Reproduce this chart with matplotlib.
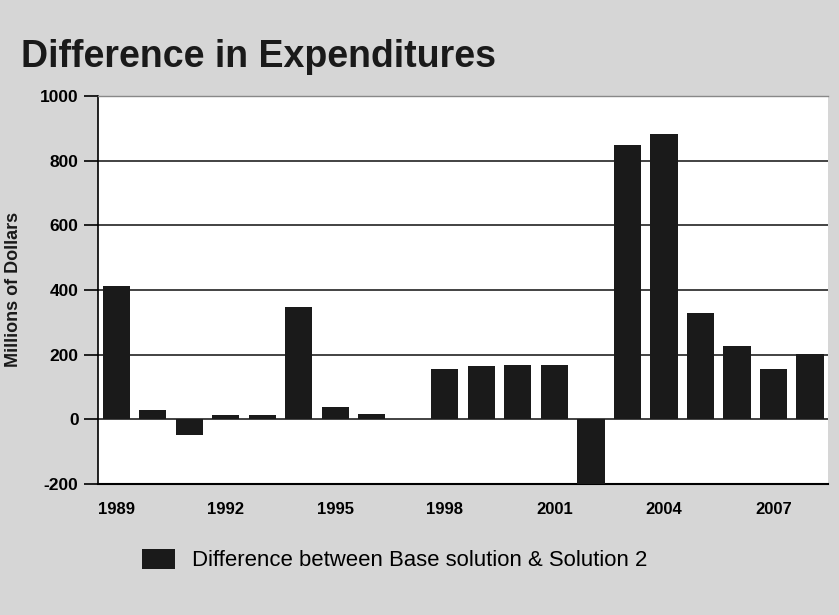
import matplotlib
matplotlib.use("Agg")
import matplotlib.pyplot as plt
import numpy as np

years = list(range(1989, 2009))
values = [413, 29, -47, 12, 13, 347, 38, 16, 2, 155, 165, 167, 167, -200,
          849, 882, 330, 227, 157, 201]
tick_years = [1989, 1992, 1995, 1998, 2001, 2004, 2007]
yticks = [-200, 0, 200, 400, 600, 800, 1000]
title = "Difference in Expenditures"
ylabel = "Millions of Dollars"
legend_label = "Difference between Base solution & Solution 2"

plt.rcParams['font.family'] = ['Liberation Sans', 'DejaVu Sans']

fig = plt.figure(figsize=(8.39, 6.15), dpi=100)
fig.patch.set_facecolor('#d6d6d6')
ax = fig.add_axes([0.1168, 0.213, 0.8702, 0.631])
ax.set_facecolor('white')

x = np.arange(len(years))
ax.bar(x, values, width=0.75, color='#1a1a1a', zorder=3,
       label=legend_label)
ax.set_xlim(-0.5, len(years) - 0.5)
ax.set_ylim(-200, 1000)
ax.set_yticks(yticks)
ax.set_yticklabels([str(v) for v in yticks], fontsize=12.5, fontweight='bold')
ax.set_xticks([years.index(y) for y in tick_years])
ax.set_xticklabels([str(y) for y in tick_years], fontsize=12, fontweight='bold')
ax.tick_params(axis='x', length=0, pad=13)
ax.tick_params(axis='y', length=10, width=1.2, direction='out', pad=4)
for yv in [200, 400, 600, 800]:
    ax.axhline(yv, color='#222222', lw=1.2, zorder=1)
ax.axhline(0, color='#222222', lw=1.2, zorder=2)
ax.spines['right'].set_visible(False)
ax.spines['left'].set_linewidth(1.2)
ax.spines['bottom'].set_linewidth(1.5)
ax.spines['top'].set_color('#888888')
ax.spines['top'].set_linewidth(1.0)

fig.text(0.025, 0.907, title, fontsize=27, fontweight='bold', va='center',
         ha='left', color='#1a1a1a')
fig.text(0.016, 0.53, ylabel, fontsize=13, fontweight='bold', rotation=90,
         va='center', ha='center', color='#1a1a1a')

leg = fig.legend(loc='center left', bbox_to_anchor=(0.146, 0.0894), frameon=False,
                 fontsize=15.9, handlelength=1.5, handleheight=1.05,
                 handletextpad=0.75)

fig.savefig("out.png", dpi=100, facecolor=fig.get_facecolor())
